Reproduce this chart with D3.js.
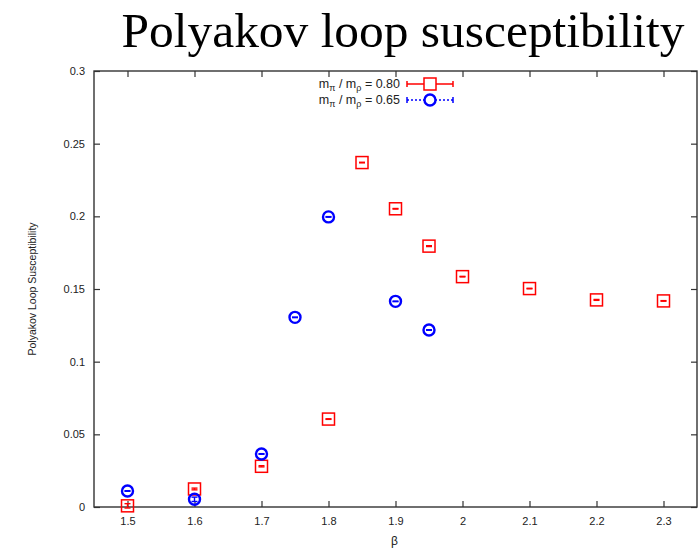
<!DOCTYPE html>
<html>
<head>
<meta charset="utf-8">
<script src="https://cdn.jsdelivr.net/npm/d3@7"></script>
<style>
  html, body { margin: 0; padding: 0; background: #fff; }
  svg { display: block; }
</style>
</head>
<body>
<svg id="chart" width="698" height="548"></svg>
<script>
// Susceptibility of the Polyakov loop versus beta, two mass ratios
const betaA = [1.5, 1.6, 1.7, 1.8, 1.85, 1.9, 1.95, 2.0, 2.1, 2.2, 2.3];
const chiA  = [0.0008, 0.0124, 0.0280, 0.0605, 0.2370, 0.2052, 0.1795, 0.1585, 0.1503, 0.1425, 0.1418];
const errA  = [0.0015, 0.0006, 0.0004, 0.0002, 0.0002, 0.0002, 0.0003, 0.0002, 0.0002, 0.0003, 0.0002];

const betaB = [1.5, 1.6, 1.7, 1.75, 1.8, 1.9, 1.95];
const chiB  = [0.0110, 0.0053, 0.0365, 0.1305, 0.1996, 0.1415, 0.1218];
const errB  = [0.0002, 0.0015, 0.0002, 0.0002, 0.0002, 0.0002, 0.0002];

const xTicks = [1.5, 1.6, 1.7, 1.8, 1.9, 2.0, 2.1, 2.2, 2.3];
const yTicks = [0, 0.05, 0.1, 0.15, 0.2, 0.25, 0.3];
const legendLabels = ["0.80", "0.65"];

const svg = d3.select("#chart");
const frame = { left: 94, right: 697, top: 71, bottom: 507 };

const x = d3.scaleLinear().domain([1.45, 2.35]).range([frame.left, frame.right]);
const y = d3.scaleLinear().domain([0, 0.3]).range([frame.bottom, frame.top]);

const axisColor = "#333";
const tickFont = "Liberation Sans, Arial, sans-serif";

// Title, sized to span its line
const title = svg.append("text")
  .attr("x", 403).attr("y", 47)
  .attr("text-anchor", "middle")
  .attr("font-family", "Liberation Serif, Times New Roman, serif")
  .attr("font-size", 100)
  .attr("fill", "#000")
  .text("Polyakov loop susceptibility");
const tw = title.node().getComputedTextLength();
title.attr("font-size", 100 * 563 / tw);

// Axes with inward ticks, mirrored on top and right
const tickLen = 6;
const gB = svg.append("g").attr("transform", `translate(0,${frame.bottom})`)
  .call(d3.axisBottom(x).tickValues(xTicks).tickSizeInner(-tickLen).tickSizeOuter(0)
    .tickPadding(10).tickFormat(d3.format("")));
const gT = svg.append("g").attr("transform", `translate(0,${frame.top})`)
  .call(d3.axisTop(x).tickValues(xTicks).tickSizeInner(-tickLen).tickSizeOuter(0).tickFormat(""));
const gL = svg.append("g").attr("transform", `translate(${frame.left},0)`)
  .call(d3.axisLeft(y).tickValues(yTicks).tickSizeInner(-tickLen).tickSizeOuter(0)
    .tickPadding(9).tickFormat(d3.format("")));
const gR = svg.append("g").attr("transform", `translate(${frame.right},0)`)
  .call(d3.axisRight(y).tickValues(yTicks).tickSizeInner(-tickLen).tickSizeOuter(0).tickFormat(""));

[gB, gT, gL, gR].forEach(g => {
  g.select(".domain").remove();
  g.selectAll(".tick line").attr("stroke", axisColor).attr("stroke-width", 1.2);
  g.selectAll(".tick text").attr("font-family", tickFont).attr("font-size", 11).attr("fill", "#222");
});

svg.append("rect")
  .attr("x", frame.left).attr("y", frame.top)
  .attr("width", frame.right - frame.left).attr("height", frame.bottom - frame.top)
  .attr("fill", "none").attr("stroke", axisColor).attr("stroke-width", 1.4);

// Axis titles
svg.append("text")
  .attr("x", (frame.left + frame.right) / 2 - 1).attr("y", 545)
  .attr("text-anchor", "middle")
  .attr("font-family", tickFont).attr("font-size", 12).attr("fill", "#222")
  .text("β");
svg.append("text")
  .attr("transform", `translate(36,289) rotate(-90)`)
  .attr("text-anchor", "middle")
  .attr("font-family", tickFont).attr("font-size", 10.5).attr("fill", "#222")
  .text("Polyakov Loop Susceptibility");

const red = "#ff0000", blue = "#0000ff";
const cap = 3;

function errorBars(g, bx, by, be, color, width) {
  const d = bx.map((b, i) => ({ b, v: by[i], e: be[i] }));
  const eg = g.selectAll("g.err").data(d).join("g").attr("class", "err")
    .attr("stroke", color).attr("stroke-width", width);
  eg.append("line")
    .attr("x1", d => x(d.b)).attr("x2", d => x(d.b))
    .attr("y1", d => y(d.v - d.e)).attr("y2", d => y(d.v + d.e));
  eg.append("line")
    .attr("x1", d => x(d.b) - cap).attr("x2", d => x(d.b) + cap)
    .attr("y1", d => y(d.v - d.e)).attr("y2", d => y(d.v - d.e));
  eg.append("line")
    .attr("x1", d => x(d.b) - cap).attr("x2", d => x(d.b) + cap)
    .attr("y1", d => y(d.v + d.e)).attr("y2", d => y(d.v + d.e));
}

// Series m_pi/m_rho = 0.80: open squares
const gA = svg.append("g");
errorBars(gA, betaA, chiA, errA, red, 1.4);
gA.selectAll("rect.pt").data(betaA.map((b, i) => [b, chiA[i]])).join("rect")
  .attr("class", "pt")
  .attr("x", d => x(d[0]) - 6).attr("y", d => y(d[1]) - 6)
  .attr("width", 12).attr("height", 12)
  .attr("fill", "none").attr("stroke", red).attr("stroke-width", 1.5);

// Series m_pi/m_rho = 0.65: open circles
const gBser = svg.append("g");
errorBars(gBser, betaB, chiB, errB, blue, 1.4);
gBser.selectAll("circle.pt").data(betaB.map((b, i) => [b, chiB[i]])).join("circle")
  .attr("class", "pt")
  .attr("cx", d => x(d[0])).attr("cy", d => y(d[1]))
  .attr("r", 5.5)
  .attr("fill", "none").attr("stroke", blue).attr("stroke-width", 2.4);

// Legend
const legend = svg.append("g").attr("font-family", tickFont).attr("font-size", 12.5).attr("fill", "#222");
const rows = [
  { y: 84, color: red, dash: null, label: legendLabels[0], mark: "square" },
  { y: 100, color: blue, dash: "2,2", label: legendLabels[1], mark: "circle" }
];
rows.forEach(r => {
  const t = legend.append("text").attr("x", 400).attr("y", r.y + 4).attr("text-anchor", "end");
  t.append("tspan").text("m");
  t.append("tspan").attr("font-size", 9).attr("dy", 3).text("π");
  t.append("tspan").attr("dy", -3).text(" / m");
  t.append("tspan").attr("font-size", 9).attr("dy", 3).text("ρ");
  t.append("tspan").attr("dy", -3).text(" = " + r.label);

  const lg = legend.append("g").attr("stroke", r.color).attr("stroke-width", 1.5).attr("fill", "none");
  lg.append("line").attr("x1", 407).attr("x2", 453).attr("y1", r.y).attr("y2", r.y)
    .attr("stroke-dasharray", r.dash);
  lg.append("line").attr("x1", 407).attr("x2", 407).attr("y1", r.y - 3).attr("y2", r.y + 3);
  lg.append("line").attr("x1", 453).attr("x2", 453).attr("y1", r.y - 3).attr("y2", r.y + 3);
  if (r.mark === "square") {
    lg.append("rect").attr("x", 424).attr("y", r.y - 6).attr("width", 12).attr("height", 12)
      .attr("fill", "#fff");
  } else {
    lg.append("circle").attr("cx", 430).attr("cy", r.y).attr("r", 5.5)
      .attr("fill", "#fff").attr("stroke-width", 2.4);
  }
});
</script>
</body>
</html>
